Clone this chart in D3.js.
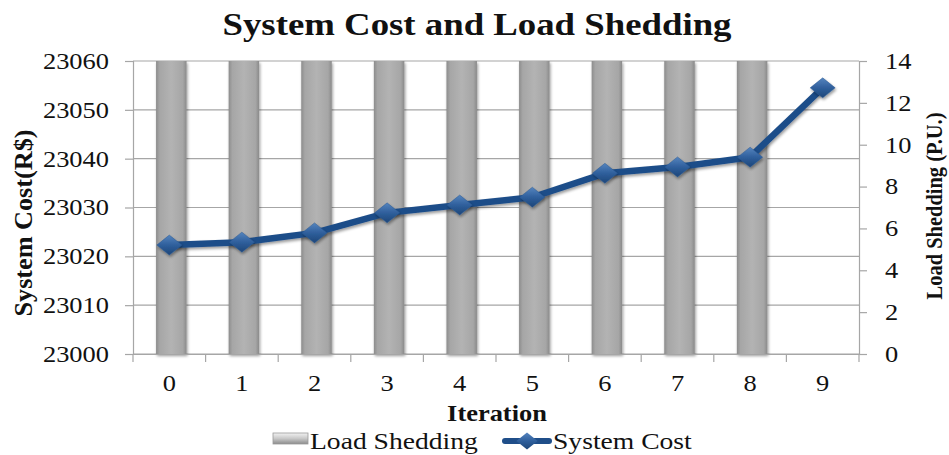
<!DOCTYPE html>
<html><head><meta charset="utf-8">
<script src="https://cdn.jsdelivr.net/npm/d3@7/dist/d3.min.js"></script>
<style>body{margin:0;background:#fff;}svg{display:block;font-family:"Liberation Serif","Times New Roman",serif;}</style>
</head><body><svg id="c" width="949" height="455"></svg>
<script>
const iterations = ["0","1","2","3","4","5","6","7","8","9"];
const systemCost = [23022.3, 23022.9, 23024.8, 23028.9, 23030.5, 23032.1, 23037.0, 23038.3, 23040.3, 23054.5];
const loadShedding = [14, 14, 14, 14, 14, 14, 14, 14, 14, 0];
const leftTicks = [23000, 23010, 23020, 23030, 23040, 23050, 23060];
const rightTicks = [0, 2, 4, 6, 8, 10, 12, 14];

const SX = 1.15;
const svg = d3.select("#c");
const m = {l:133, r:859, t:61, b:354};
const x = d3.scaleBand().domain(iterations).range([m.l, m.r]).paddingInner(0.58).paddingOuter(0.29);
const xb = d3.scaleBand().domain(iterations).range([m.l, m.r]);
const yL = d3.scaleLinear().domain([23000, 23060]).range([m.b, m.t]);
const yR = d3.scaleLinear().domain([0, 14]).range([m.b, m.t]);

function stretch(sel){
  sel.each(function(){
    const t = d3.select(this);
    const tx = +t.attr("x") || 0;
    t.attr("x",0).attr("transform",`translate(${tx},0) scale(${SX},1)`);
  });
}

const defs = svg.append("defs");
const g1 = defs.append("linearGradient").attr("id","barg").attr("x1","0").attr("x2","1");
[[0,"#8c8c8c"],[0.12,"#a6a6a6"],[0.5,"#b3b3b3"],[0.88,"#a6a6a6"],[1,"#8a8a8a"]].forEach(s=>g1.append("stop").attr("offset",s[0]).attr("stop-color",s[1]));
const g2 = defs.append("linearGradient").attr("id","dg").attr("x1","0").attr("y1","0").attr("x2","0").attr("y2","1");
[[0,"#5584be"],[0.5,"#2f5f9c"],[1,"#1d4679"]].forEach(s=>g2.append("stop").attr("offset",s[0]).attr("stop-color",s[1]));
const lg = defs.append("linearGradient").attr("id","lgs").attr("x1","0").attr("y1","0").attr("x2","0").attr("y2","1");
[[0,"#f2f2f2"],[0.5,"#c8c8c8"],[1,"#8c8c8c"]].forEach(s=>lg.append("stop").attr("offset",s[0]).attr("stop-color",s[1]));
const sh = defs.append("filter").attr("id","sh").attr("x","-50%").attr("y","-50%").attr("width","200%").attr("height","200%");
sh.append("feGaussianBlur").attr("in","SourceAlpha").attr("stdDeviation",1.5);
sh.append("feOffset").attr("dx",1).attr("dy",1.5).attr("result","o");
sh.append("feComponentTransfer").append("feFuncA").attr("type","linear").attr("slope",0.4);
const mg = sh.append("feMerge"); mg.append("feMergeNode"); mg.append("feMergeNode").attr("in","SourceGraphic");

// gridlines
svg.append("g").selectAll("line").data(leftTicks).join("line")
  .attr("x1",m.l).attr("x2",m.r).attr("y1",d=>yL(d)).attr("y2",d=>yL(d))
  .attr("stroke","#a6a6a6").attr("stroke-width",1.2);

// bars
svg.append("g").selectAll("rect").data(iterations.map((k,i)=>({k,v:loadShedding[i]})).filter(d=>d.v>0)).join("rect")
  .attr("x",d=>x(d.k)+2).attr("width",x.bandwidth()).attr("y",d=>yR(d.v)).attr("height",d=>yR(0)-yR(d.v))
  .attr("fill","url(#barg)").attr("filter","url(#sh)");

// axes
const axL = d3.axisLeft(yL).tickValues(leftTicks).tickSize(8).tickPadding(16).tickFormat(d3.format("d"));
const gL = svg.append("g").attr("transform",`translate(${m.l},0)`).call(axL);
const axR = d3.axisRight(yR).tickValues(rightTicks).tickSize(8).tickPadding(18);
const gR = svg.append("g").attr("transform",`translate(${m.r},0)`).call(axR);
const axB = d3.axisBottom(xb).tickSize(0).tickPadding(21);
const gB = svg.append("g").attr("transform",`translate(0,${m.b})`).call(axB);
// category boundary ticks
svg.append("g").selectAll("line").data(d3.range(iterations.length+1)).join("line")
  .attr("x1",i=>m.l+i*xb.bandwidth()).attr("x2",i=>m.l+i*xb.bandwidth())
  .attr("y1",m.b).attr("y2",m.b+8).attr("stroke","#a6a6a6").attr("stroke-width",1.2);
[gL,gR,gB].forEach(g=>{
  g.select(".domain").attr("stroke","#a6a6a6").attr("stroke-width",1.2);
  g.selectAll(".tick line").attr("stroke","#a6a6a6").attr("stroke-width",1.2);
  g.selectAll("text").attr("font-family","Liberation Serif").attr("font-size",23).attr("fill","#111");
  stretch(g.selectAll("text"));
});
gR.selectAll("text").attr("text-anchor","start");

// line
const cx = i => xb(iterations[i]) + xb.bandwidth()/2;
const line = d3.line().x((d,i)=>cx(i)).y(d=>yL(d));
svg.append("path").datum(systemCost).attr("d",line).attr("fill","none")
  .attr("stroke","#1f4e89").attr("stroke-width",6.5).attr("stroke-linejoin","round").attr("filter","url(#sh)");
const diamond = "M0,-10L12.5,0L0,10L-12.5,0Z";
svg.append("g").selectAll("path").data(systemCost).join("path")
  .attr("transform",(d,i)=>`translate(${cx(i)},${yL(d)})`)
  .attr("d",diamond).attr("fill","url(#dg)").attr("stroke","#2a5a94").attr("stroke-width",0.5).attr("filter","url(#sh)");

// titles
function stxt(tx, ty, size, bold, str){
  return svg.append("text").attr("transform",`translate(${tx},${ty}) scale(${SX},1)`).attr("text-anchor","middle")
    .attr("font-size",size).attr("font-weight",bold?"bold":"normal").attr("fill","#111").text(str);
}
stxt(477, 35, 32, true, "System Cost and Load Shedding");
stxt(497, 421, 23, true, "Iteration");
svg.append("text").attr("transform","translate(32,223) rotate(-90) scale(1,1.1)").attr("text-anchor","middle")
  .attr("font-size",23).attr("font-weight","bold").attr("fill","#111")
  .attr("textLength",187).attr("lengthAdjust","spacingAndGlyphs").text("System Cost(R$)");
svg.append("text").attr("transform","translate(942,206) rotate(-90) scale(1,1.1)").attr("text-anchor","middle")
  .attr("font-size",21).attr("font-weight","bold").attr("fill","#111")
  .attr("textLength",187).attr("lengthAdjust","spacingAndGlyphs").text("Load Shedding  (P.U.)");

// legend
const lgG = svg.append("g");
lgG.append("rect").attr("x",273).attr("y",433).attr("width",35).attr("height",11).attr("fill","url(#lgs)").attr("stroke","#9a9a9a").attr("stroke-width",0.8);
lgG.append("text").attr("transform",`translate(310,449) scale(${SX},1)`).attr("font-size",24).attr("fill","#111").text("Load Shedding");
lgG.append("line").attr("x1",505).attr("x2",549).attr("y1",441).attr("y2",441).attr("stroke","#1f4e89").attr("stroke-width",6).attr("stroke-linecap","round");
lgG.append("path").attr("transform","translate(527,441) scale(0.85)").attr("d",diamond).attr("fill","url(#dg)");
lgG.append("text").attr("transform",`translate(553,449) scale(${SX},1)`).attr("font-size",24).attr("fill","#111").text("System Cost");
</script></body></html>
